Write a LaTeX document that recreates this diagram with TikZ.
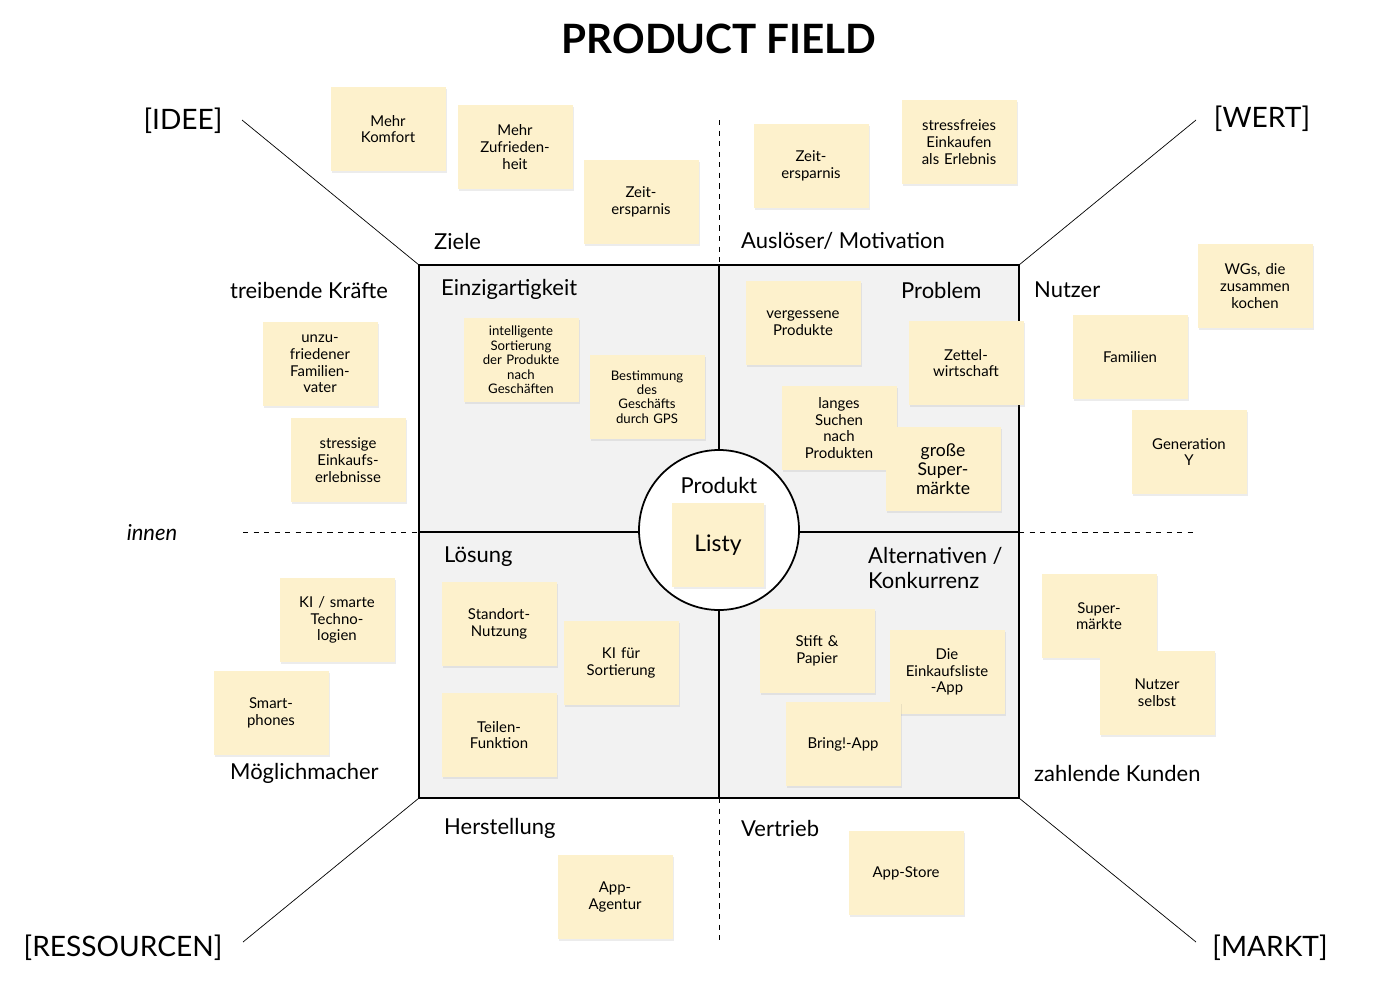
\documentclass[tikz,border=0pt]{standalone}
\usepackage{fontspec}
\setmainfont{Lato}
\usetikzlibrary{shadows}
\definecolor{notefill}{HTML}{FDF1CC}
\definecolor{fieldgray}{HTML}{F2F2F2}
\tikzset{
  note/.style={fill=notefill, minimum width=115*0.02cm, minimum height=84*0.02cm,
    align=center, font=\fontsize{8.5}{9.5}\selectfont, text width=100*0.02cm,
    drop shadow={opacity=0.15, shadow xshift=1pt, shadow yshift=-1pt}},
  small/.style={font=\fontsize{7.5}{8.2}\selectfont},
  label/.style={font=\fontsize{12.5}{14}\selectfont, anchor=west},
  corner/.style={font=\fontsize{16}{18}\selectfont},
  guide/.style={dashed, line width=0.5pt}
}
\newcommand{\sticky}[5][]{\node[note,#1] (#2) at (#3,#4) {#5};}
\begin{document}
\begin{tikzpicture}[x=0.02cm,y=-0.02cm]
\useasboundingbox (0,0) rectangle (1391,984);
% field
\draw[fill=fieldgray, line width=1pt] (419,265) rectangle (1019,798);
\draw[line width=0.6pt] (719,265) -- (719,798);
\draw[line width=0.6pt] (419,532) -- (1019,532);
\draw[guide] (719,120) -- (719,265);
\draw[guide] (719,798) -- (719,942);
\draw[guide] (243,532) -- (419,532);
\draw[guide] (1019,532) -- (1196,532);
% diagonals
\draw (242,120) -- (419,265);
\draw (1196,120) -- (1019,265);
\draw (243,942) -- (419,798);
\draw (1196,942) -- (1019,798);
\draw[line width=1pt, fill=white] (719,530) circle (80);
% titles
\node[font=\fontsize{23}{26}\bfseries] (title) at (719,39) {PRODUCT FIELD};
\node[corner] (idee) at (183,121) {[IDEE]};
\node[corner] (wert) at (1262,119) {[WERT]};
\node[corner] (res) at (123,948) {[RESSOURCEN]};
\node[corner] (markt) at (1270,948) {[MARKT]};
\node[label] at (428,241) {Ziele};
\node[label] at (735,241) {Auslöser/ Motivation};
\node[label] at (224,290) {treibende Kräfte};
\node[label] at (1028,290) {Nutzer};
\node[label] at (435,289) {Einzigartigkeit};
\node[label] at (895,290) {Problem};
\node[label, anchor=center] at (719,485) {Produkt};
\node[label, anchor=center, font=\fontsize{12.5}{14}\itshape] at (152,533) {innen};
\node[label] at (438,557) {Lösung};
\node[label, align=left] at (862,568) {Alternativen /\\Konkurrenz};
\node[label] at (224,773) {Möglichmacher};
\node[label] at (1028,773) {zahlende Kunden};
\node[label] at (438,828) {Herstellung};
\node[label] at (735,828) {Vertrieb};
% notes
\sticky{n1}{388}{129}{Mehr\\Komfort}
\sticky{n2}{515}{147}{Mehr\\Zufrieden-\\heit}
\sticky{n3}{641}{202}{Zeit-\\ersparnis}
\sticky{n4}{811}{166}{Zeit-\\ersparnis}
\sticky{n5}{959}{142}{stressfreies\\Einkaufen\\als Erlebnis}
\sticky{n6}{1255}{286}{WGs, die\\zusammen\\kochen}
\sticky{n7}{1130}{357}{Familien}
\sticky{n8}{1189}{452}{Generation\\Y}
\sticky{n9}{320}{364}{unzu-\\friedener\\Familien-\\vater}
\sticky{n10}{348}{460}{stressige\\Einkaufs-\\erlebnisse}
\sticky[small]{n11}{521}{360}{intelligente\\Sortierung\\der Produkte\\nach\\Geschäften}
\sticky[small]{n12}{647}{397}{Bestimmung\\des\\Geschäfts\\durch GPS}
\sticky{n13}{803}{323}{vergessene\\Produkte}
\sticky{n14}{966}{363}{Zettel-\\wirtschaft}
\sticky{n15}{839}{428}{langes\\Suchen\\nach\\Produkten}
\sticky[font=\fontsize{10}{11}\selectfont]{n16}{943}{469}{große\\Super-\\märkte}
\sticky[minimum width=90*0.02cm, text width=80*0.02cm, font=\fontsize{13}{15}\selectfont]{listy}{718}{545}{Listy}
\sticky{n17}{337}{620}{KI / smarte\\Techno-\\logien}
\sticky{n18}{271}{713}{Smart-\\phones}
\sticky{n19}{499}{624}{Standort-\\Nutzung}
\sticky{n20}{621}{663}{KI für\\Sortierung}
\sticky{n21}{499}{735}{Teilen-\\Funktion}
\sticky{n22}{817}{651}{Stift \&\\Papier}
\sticky{n23}{947}{672}{Die\\Einkaufsliste\\-App}
\sticky{n24}{843}{744}{Bring!-App}
\sticky{n25}{1099}{616}{Super-\\märkte}
\sticky{n26}{1157}{693}{Nutzer\\selbst}
\sticky{n27}{615}{897}{App-\\Agentur}
\sticky{n28}{906}{873}{App-Store}
\end{tikzpicture}
\end{document}
